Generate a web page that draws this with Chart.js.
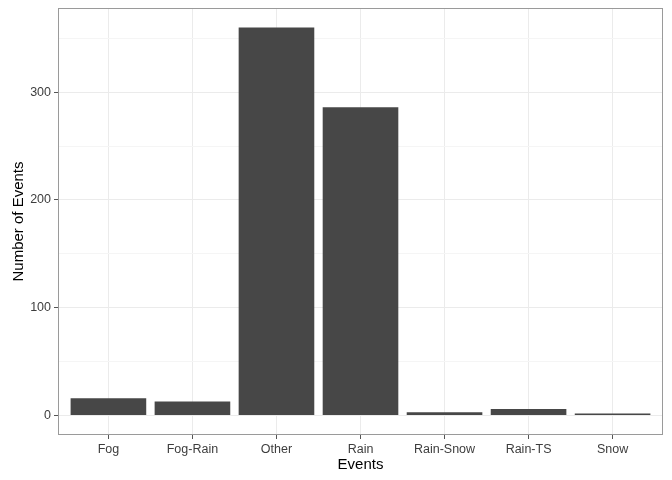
<!DOCTYPE html>
<html>
<head>
<meta charset="utf-8">
<script src="https://cdn.jsdelivr.net/npm/chart.js@4/dist/chart.umd.min.js"></script>
<style>
  html, body { margin: 0; padding: 0; background: #fff; }
  #wrap { width: 672px; height: 480px; }
</style>
</head>
<body>
<div id="wrap"><canvas id="eventsChart" width="672" height="480"></canvas></div>
<script>
var categories = ["Fog", "Fog-Rain", "Other", "Rain", "Rain-Snow", "Rain-TS", "Snow"];
var eventCounts = [16, 13, 360, 286, 3, 6, 2];
var yTicks = [0, 50, 100, 150, 200, 250, 300, 350];
var yLabelled = [0, 100, 200, 300];

// panel border on all four sides, like theme_bw
var panelBorder = {
  id: 'panelBorder',
  afterDraw: function (chart) {
    var a = chart.chartArea;
    var ctx = chart.ctx;
    ctx.save();
    ctx.strokeStyle = '#9a9a9a';
    ctx.lineWidth = 1;
    ctx.strokeRect(a.left + 0.5, a.top + 0.5, a.right - a.left - 1, a.bottom - a.top - 1);
    ctx.restore();
  }
};

var points = categories.map(function (c, i) {
  return { x: i + 1, y: eventCounts[i] };
});

new Chart(document.getElementById('eventsChart'), {
  type: 'bar',
  data: {
    datasets: [{
      data: points,
      backgroundColor: '#474747',
      borderWidth: 0,
      categoryPercentage: 1,
      barPercentage: 0.9
    }]
  },
  options: {
    responsive: false,
    animation: false,
    layout: { padding: { left: 0, right: 9, top: 8, bottom: 0 } },
    plugins: {
      legend: { display: false },
      tooltip: { enabled: false }
    },
    scales: {
      x: {
        type: 'linear',
        min: 0.4,
        max: 7.6,
        offset: false,
        afterBuildTicks: function (scale) {
          scale.ticks = categories.map(function (c, i) { return { value: i + 1 }; });
        },
        afterFit: function (scale) {
          scale.height = 45;
          scale.paddingLeft = 0;
          scale.paddingRight = 0;
        },
        ticks: {
          autoSkip: false,
          maxRotation: 0,
          padding: 3,
          color: '#3d3d3d',
          font: { family: 'Liberation Sans', size: 12.5 },
          callback: function (v) { return categories[v - 1]; }
        },
        grid: {
          offset: false,
          color: '#ebebeb',
          lineWidth: 1,
          tickLength: 4,
          tickColor: '#555'
        },
        border: { display: false },
        title: {
          display: true,
          text: 'Events',
          color: '#000',
          font: { family: 'Liberation Sans', size: 15 },
          padding: { top: 0, bottom: 6 }
        }
      },
      y: {
        min: -18,
        max: 378,
        afterBuildTicks: function (scale) {
          scale.ticks = yTicks.map(function (v) { return { value: v }; });
        },
        afterFit: function (scale) {
          scale.width = 58;
          scale.paddingTop = 0;
          scale.paddingBottom = 0;
        },
        ticks: {
          padding: 3,
          color: '#3d3d3d',
          font: { family: 'Liberation Sans', size: 12.5 },
          callback: function (v) { return yLabelled.indexOf(v) >= 0 ? String(v) : ''; }
        },
        grid: {
          color: function (ctx) {
            return yLabelled.indexOf(ctx.tick && ctx.tick.value) >= 0 ? '#ebebeb' : '#f5f5f5';
          },
          lineWidth: 1,
          tickLength: 4,
          tickColor: function (ctx) {
            return yLabelled.indexOf(ctx.tick && ctx.tick.value) >= 0 ? '#555' : 'rgba(0,0,0,0)';
          }
        },
        border: { display: false },
        title: {
          display: true,
          text: 'Number of Events',
          color: '#000',
          font: { family: 'Liberation Sans', size: 15 },
          padding: { top: 10, bottom: 0 }
        }
      }
    }
  },
  plugins: [panelBorder]
});
</script>
</body>
</html>
